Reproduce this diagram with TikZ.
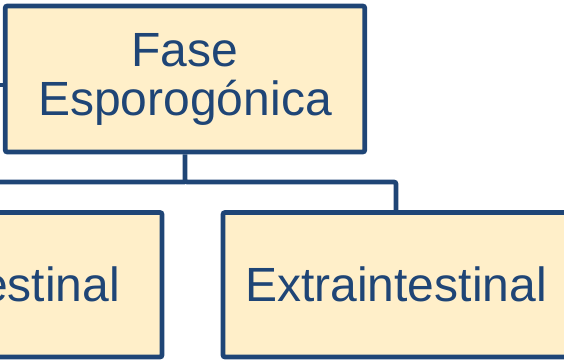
\documentclass[tikz,border=0pt]{standalone}
\usepackage{fontspec}
\setmainfont{Liberation Sans}
\definecolor{boxblue}{HTML}{1F4576}
\definecolor{boxfill}{HTML}{FFEFC9}
\begin{document}
\begin{tikzpicture}
        [x=1pt, y=-1pt,
         box_style/.style={rectangle,draw=boxblue,fill=boxfill,line width=4.7pt,rounded corners=2pt,
                           text=boxblue,font=\fontsize{48}{49}\selectfont,align=center},
         edge_style/.style={draw=boxblue,line width=4.7pt,rounded corners=2pt}]
            \useasboundingbox (0,0) rectangle (564,361);
            \node[box_style,minimum width=359.5pt,minimum height=146pt] (fase) at (185, 79) {Fase\\Esporog\'onica};
            \node[box_style,minimum width=346pt,minimum height=144.5pt] (extra) at (396, 284.75) {Extraintestinal};
            \node[box_style,minimum height=144.5pt,text width=262pt,inner xsep=42pt,align=right] (intes) at (-11, 284.75) {Intestinal};
            \coordinate (bar) at (0, 182);
            \coordinate (parent) at (-20, 85);
            \draw[edge_style]  (parent) -- (parent -| fase.west);
            \draw[edge_style]  (fase.south) -- (fase.south |- bar) -| (extra.north);
            \draw[edge_style]  (fase.south |- bar) -| (intes.north);
        \end{tikzpicture}
\end{document}
